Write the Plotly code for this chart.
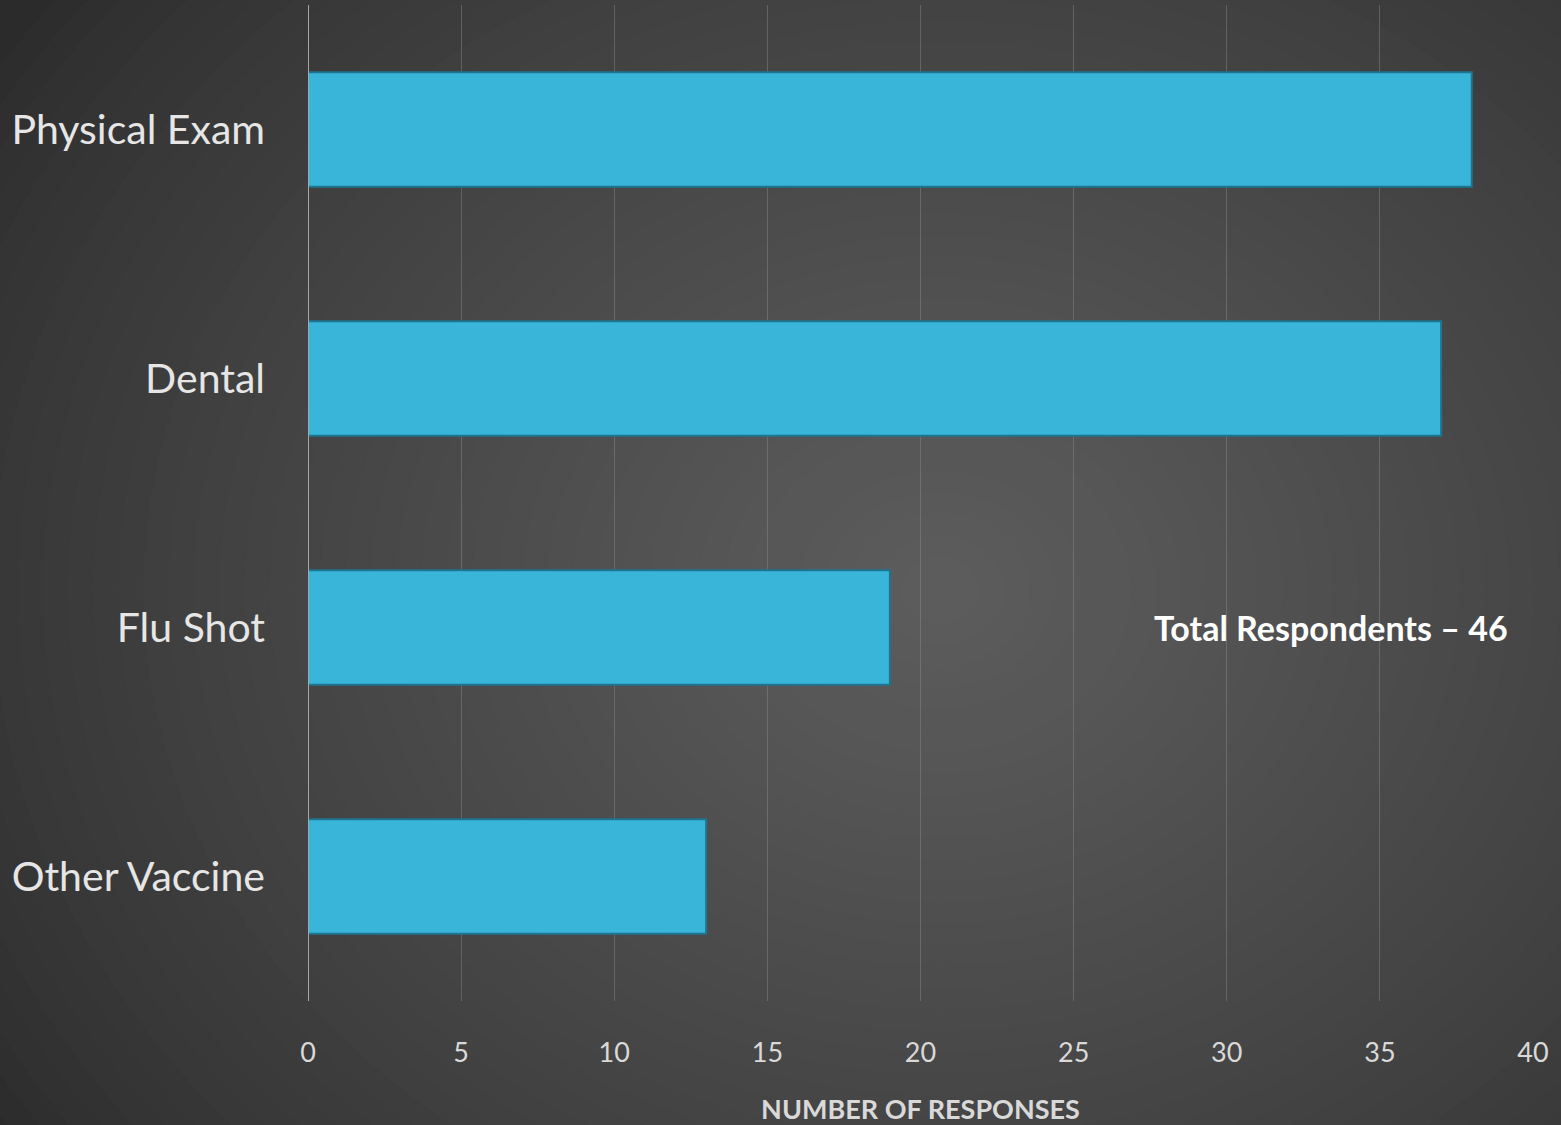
import plotly.graph_objects as go

categories = ["Physical Exam", "Dental", "Flu Shot", "Other Vaccine"]
responses = [38, 37, 19, 13]
x_ticks = [0, 5, 10, 15, 20, 25, 30, 35, 40]
note_text = "<b>Total Respondents – 46</b>"
axis_title = "<b>NUMBER OF RESPONSES</b>"

W, H = 1561, 1125
L, R, T, B = 308, 28, 5, 124
pw, ph = W - L - R, H - T - B

fig = go.Figure()
fig.add_trace(go.Bar(
    y=categories, x=responses, orientation="h", width=0.46,
    marker=dict(color="#39b5da", line=dict(color="#1c7591", width=2)),
    hoverinfo="x+y",
))

# radial background gradient built from concentric ellipses
shapes = []
cx, cy = 940, 590
n = 45
c_out, c_in = (0x2b, 0x2b, 0x2b), (0x5c, 0x5c, 0x5c)
for i in range(n):
    t = i / (n - 1)
    r = 1150 * (1 - t) + 40 * t
    ry = r * 0.85
    col = tuple(int(round(c_out[k] + (c_in[k] - c_out[k]) * (t ** 0.8))) for k in range(3))
    shapes.append(dict(
        type="circle", xref="paper", yref="paper", layer="below",
        x0=(cx - r - L) / pw, x1=(cx + r - L) / pw,
        y0=(H - B - (cy + ry)) / ph, y1=(H - B - (cy - ry)) / ph,
        fillcolor="rgb(%d,%d,%d)" % col, line=dict(width=0),
    ))

fig.update_layout(
    width=W, height=H,
    margin=dict(l=L, r=R, t=T, b=B, autoexpand=False),
    paper_bgcolor="#2b2b2b", plot_bgcolor="rgba(0,0,0,0)",
    shapes=shapes, showlegend=False,
    font=dict(family="Lato, 'Open Sans', sans-serif", color="#d9d9d9"),
    bargap=0.54,
)
fig.update_xaxes(
    range=[0, 40], tickvals=x_ticks, ticks="", automargin=False,
    showgrid=True, gridcolor="rgba(140,140,140,0.45)", gridwidth=1,
    zeroline=False, showline=False,
    tickfont=dict(size=27, color="#d9d9d9"), ticklabelstandoff=33,
    title=dict(text=axis_title, font=dict(size=27, color="#d9d9d9"), standoff=37),
)
fig.update_yaxes(
    categoryorder="array", categoryarray=categories[::-1],
    showgrid=False, zeroline=False, ticks="", automargin=False,
    showline=False,
    tickfont=dict(size=41, color="#e6e6e6"), ticklabelstandoff=42,
)
# y axis line at x=0
fig.add_vline(x=0, line=dict(color="#a6a6a6", width=2))
fig.add_annotation(
    x=33.4, y="Flu Shot", text=note_text, showarrow=False,
    xanchor="center", yanchor="middle",
    font=dict(size=34, color="#ffffff"),
)
fig.write_html(
    "out.html",
    config={"displayModeBar": False},
    post_script="document.body.style.margin='0';document.body.style.overflow='hidden';",
)
